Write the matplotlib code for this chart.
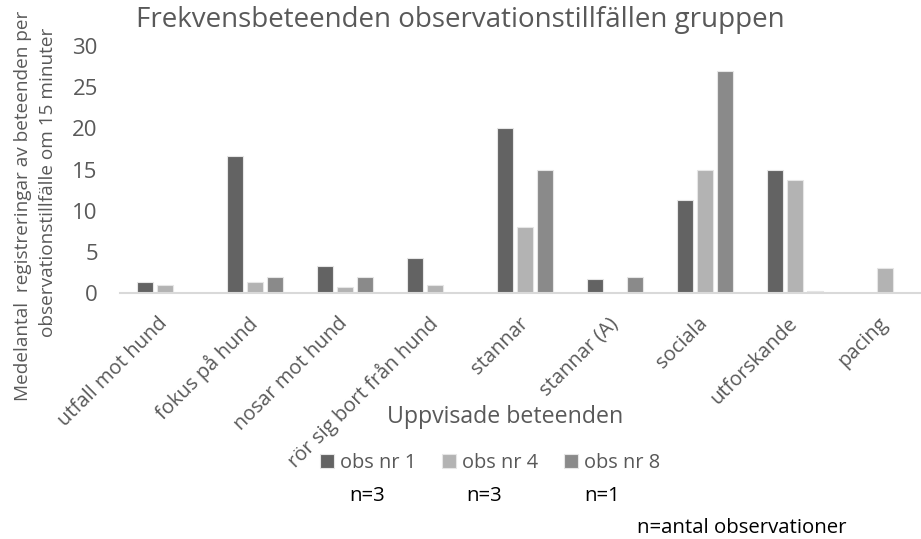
import matplotlib
matplotlib.use("Agg")
import matplotlib.pyplot as plt
import numpy as np

plt.rcParams['font.family'] = ['Open Sans', 'DejaVu Sans']

categories = ["utfall mot hund", "fokus på hund", "nosar mot hund", "rör sig bort från hund",
              "stannar", "stannar (A)", "sociala", "utforskande", "pacing"]
obs1 = [1.3, 16.6, 3.3, 4.3, 20.0, 1.7, 11.3, 15.0, 0]
obs4 = [1.0, 1.3, 0.7, 1.0, 8.0, 0, 15.0, 13.7, 3.0]
obs8 = [0, 2.0, 2.0, 0, 15.0, 2.0, 27.0, 0.3, 0]
series_names = ["obs nr 1", "obs nr 4", "obs nr 8"]
n_labels = ["n=3", "n=3", "n=1"]

grey = "#595959"
colors = ["#636363", "#b3b3b3", "#8a8a8a"]

fig = plt.figure(figsize=(9.21, 5.39), dpi=100)
ax = fig.add_axes([120/921, 246/539, 810/921, 247/539])

x = np.arange(len(categories))
w = 0.178
for i, (vals, c, name) in enumerate(zip([obs1, obs4, obs8], colors, series_names)):
    ax.bar(x + (i - 1) * 0.222, vals, w, color=c, edgecolor="#e6e6e6", linewidth=0.8, label=name)

ax.set_xlim(-0.5, len(categories) - 0.5)
ax.set_ylim(0, 30)
ax.set_yticks(range(0, 31, 5))
ax.tick_params(axis="y", length=0, pad=16, labelsize=16, labelcolor=grey)
ax.tick_params(axis="x", length=0, pad=20)
ax.set_xticks(x)
ax.set_xticklabels(categories, rotation=45, ha="right", va="center",
                   rotation_mode="anchor", fontsize=14.5, color=grey)

for s in ["top", "right", "left"]:
    ax.spines[s].set_visible(False)
ax.spines["bottom"].set_color("#d9d9d9")
ax.spines["bottom"].set_linewidth(1.5)

# titles
fig.text(460/921, 1 - 20/539, "Frekvensbeteenden observationstillfällen gruppen",
         ha="center", va="center", fontsize=20, color=grey)
fig.text(23/921, 1 - 206/539, "Medelantal  registreringar av beteenden per",
         rotation=90, ha="center", va="center", fontsize=13.7, color=grey)
fig.text(48/921, 1 - 182/539, "observationstillfälle om 15 minuter",
         rotation=90, ha="center", va="center", fontsize=13.7, color=grey)
fig.text(505/921, 1 - 417/539, "Uppvisade beteenden",
         ha="center", va="center", fontsize=16.7, color=grey)

handles, labels = ax.get_legend_handles_labels()
leg = fig.legend(handles, labels, loc="center", bbox_to_anchor=(490/921, 1 - 463/539),
                 ncol=3, frameon=False, fontsize=14.4, handlelength=0.7, handleheight=0.7,
                 handletextpad=0.3, columnspacing=1.3)
for t in leg.get_texts():
    t.set_color(grey)

for xc, lab in zip([367, 484, 602], n_labels):
    fig.text(xc/921, 1 - 496/539, lab, ha="center", va="center", fontsize=14.7, color="black")
fig.text(742/921, 1 - 528/539, "n=antal observationer", ha="center", va="center",
         fontsize=14.7, color="black")

fig.savefig("out.png", dpi=100)
